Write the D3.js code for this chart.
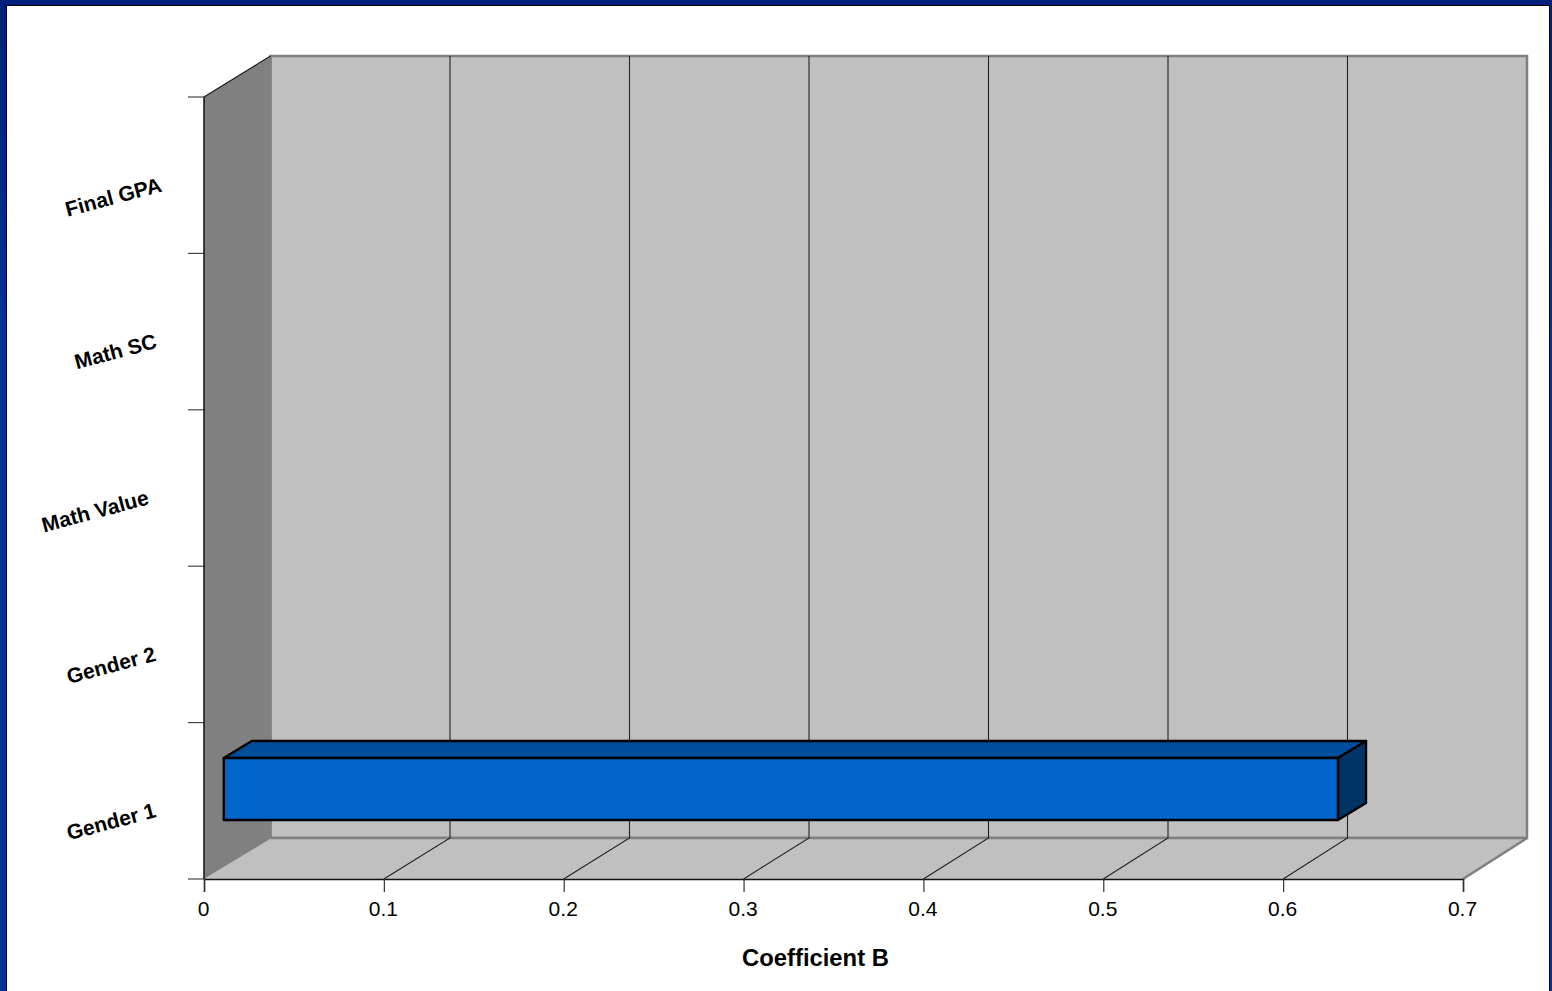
<!DOCTYPE html>
<html>
<head>
<meta charset="utf-8">
<style>
  html, body { margin: 0; padding: 0; background: #fff; }
  svg { display: block; }
  text { font-family: "Liberation Sans", Arial, sans-serif; fill: #000; }
</style>
<script src="https://cdn.jsdelivr.net/npm/d3@7/dist/d3.min.js"></script>
</head>
<body>
<svg id="chart" width="1552" height="991"></svg>
<script>
// Categories listed bottom to top along the vertical axis
const categories = ["Gender 1", "Gender 2", "Math Value", "Math SC", "Final GPA"];
// Each bar runs from its start value to its end value; only Gender 1 has one
const barStart = [0.011, null, null, null, null];
const barEnd = [0.6305, null, null, null, null];
const tickValues = [0, 0.1, 0.2, 0.3, 0.4, 0.5, 0.6, 0.7];
const axisTitle = "Coefficient B";

const svg = d3.select("#chart");
const defs = svg.append("defs");
const frame = defs.append("linearGradient").attr("id", "frame")
  .attr("x1", 0).attr("y1", 0).attr("x2", 0).attr("y2", 1);
frame.append("stop").attr("offset", 0).attr("stop-color", "#00207a");
frame.append("stop").attr("offset", 0.35).attr("stop-color", "#003399");
frame.append("stop").attr("offset", 1).attr("stop-color", "#003399");

// Slide frame with a white panel inside it
svg.append("rect").attr("width", 1552).attr("height", 991).attr("fill", "url(#frame)");
svg.append("rect").attr("x", 6).attr("y", 5).attr("width", 1544).attr("height", 986).attr("fill", "#000");
svg.append("rect").attr("x", 7).attr("y", 6).attr("width", 1542).attr("height", 985).attr("fill", "#fff");

// Scales for the front plane of the 3D box and for its back wall
const x = d3.scaleLinear().domain([0, 0.7]).range([204, 1463]);
const xBack = d3.scaleLinear().domain([0, 0.7]).range([270.5, 1527]);
const y = d3.scaleBand().domain(categories).range([879, 97]);

// Vertical offset of the back wall, and the bar's own depth
const depthY = -41;
const barDepthX = 28, barDepthY = -17;
const barTopShare = 0.226, barBottomShare = 0.623; // bar face position inside its band

const [x0, x1] = x.range();
const [bx0, bx1] = xBack.range();
const [yBottom, yTop] = y.range();
const poly = pts => pts.map(p => p.join(",")).join(" ");

// Back wall
svg.append("rect")
  .attr("x", bx0).attr("y", yTop + depthY)
  .attr("width", bx1 - bx0).attr("height", yBottom - yTop)
  .attr("fill", "#c0c0c0").attr("stroke", "#808080").attr("stroke-width", 2.5);

// Floor
svg.append("polygon")
  .attr("points", poly([[x0, yBottom], [bx0, yBottom + depthY], [bx1, yBottom + depthY], [x1, yBottom]]))
  .attr("fill", "#c0c0c0");
svg.append("path")
  .attr("d", d3.line()([[bx1, yBottom + depthY], [x1, yBottom]]))
  .attr("stroke", "#808080").attr("stroke-width", 2.5).attr("fill", "none");
svg.append("path")
  .attr("d", d3.line()([[bx0, yBottom + depthY], [bx1, yBottom + depthY]]))
  .attr("stroke", "#808080").attr("stroke-width", 2.5).attr("fill", "none");

// Side wall
svg.append("polygon")
  .attr("points", poly([[x0, yTop], [bx0 + 1, yTop + depthY], [bx0 + 1, yBottom + depthY], [x0, yBottom]]))
  .attr("fill", "#808080");
svg.append("path")
  .attr("d", d3.line()([[x0, yTop], [bx0, yTop + depthY]]))
  .attr("stroke", "#1a1a1a").attr("stroke-width", 1.2).attr("fill", "none");

// Gridlines run along the floor and up the back wall
const inner = tickValues.slice(1, -1);
svg.append("g").selectAll("path").data(inner).join("path")
  .attr("d", d => d3.line()([[x(d), yBottom], [xBack(d), yBottom + depthY], [xBack(d), yTop + depthY]]))
  .attr("fill", "none").attr("stroke", "#222").attr("stroke-width", 1.1);

// Bars
const bars = categories.map((c, i) => ({ c, start: barStart[i], end: barEnd[i] })).filter(d => d.end !== null);
const barG = svg.append("g").selectAll("g").data(bars).join("g")
  .attr("stroke", "#000").attr("stroke-width", 2.4).attr("stroke-linejoin", "round");
const faceTop = d => y(d.c) + y.bandwidth() * barTopShare;
const faceBottom = d => y(d.c) + y.bandwidth() * barBottomShare;
barG.append("polygon").attr("fill", "#004e9c")
  .attr("points", d => poly([[x(d.start), faceTop(d)], [x(d.start) + barDepthX, faceTop(d) + barDepthY], [x(d.end) + barDepthX, faceTop(d) + barDepthY], [x(d.end), faceTop(d)]]));
barG.append("polygon").attr("fill", "#003366")
  .attr("points", d => poly([[x(d.end), faceTop(d)], [x(d.end) + barDepthX, faceTop(d) + barDepthY], [x(d.end) + barDepthX, faceBottom(d) + barDepthY], [x(d.end), faceBottom(d)]]));
barG.append("polygon").attr("fill", "#0066cc")
  .attr("points", d => poly([[x(d.start), faceTop(d)], [x(d.end), faceTop(d)], [x(d.end), faceBottom(d)], [x(d.start), faceBottom(d)]]));

// Front axes, drawn with d3's axis generators
const xAxis = svg.append("g").attr("transform", `translate(0,${yBottom})`)
  .call(d3.axisBottom(x).tickValues(tickValues).tickFormat(d3.format("~g")).tickSize(13).tickPadding(9));
xAxis.select(".domain").attr("stroke", "#111").attr("stroke-width", 1.5);
xAxis.selectAll(".tick line").attr("stroke", "#333").attr("stroke-width", 1.2);
xAxis.selectAll(".tick text").attr("font-size", 21).attr("font-family", null).attr("fill", "#000").attr("dx", -1);

// Category boundaries on the front edge
const edges = d3.range(categories.length + 1).map(i => yBottom + (yTop - yBottom) * i / categories.length);
svg.append("g").selectAll("line").data(edges).join("line")
  .attr("x1", x0 - 16).attr("x2", x0).attr("y1", d => d).attr("y2", d => d)
  .attr("stroke", "#444").attr("stroke-width", 1.2);
svg.append("line").attr("x1", x0).attr("x2", x0).attr("y1", yTop).attr("y2", yBottom)
  .attr("stroke", "#111").attr("stroke-width", 1.5);

// Slanted category labels, each with its own small horizontal nudge
const labelNudge = { "Final GPA": 6, "Math SC": 1, "Math Value": -7, "Gender 2": 0, "Gender 1": 0 };
svg.append("g").selectAll("text").data(categories).join("text")
  .attr("text-anchor", "end")
  .attr("font-size", 21).attr("font-weight", "bold")
  .attr("transform", d => `translate(${157 + labelNudge[d]},${y(d) + y.bandwidth() / 2 + 16}) rotate(-15)`)
  .text(d => d);

// Axis title
svg.append("text").attr("x", 815.5).attr("y", 966).attr("text-anchor", "middle")
  .attr("font-size", 23.8).attr("font-weight", "bold").text(axisTitle);
</script>
</body>
</html>
